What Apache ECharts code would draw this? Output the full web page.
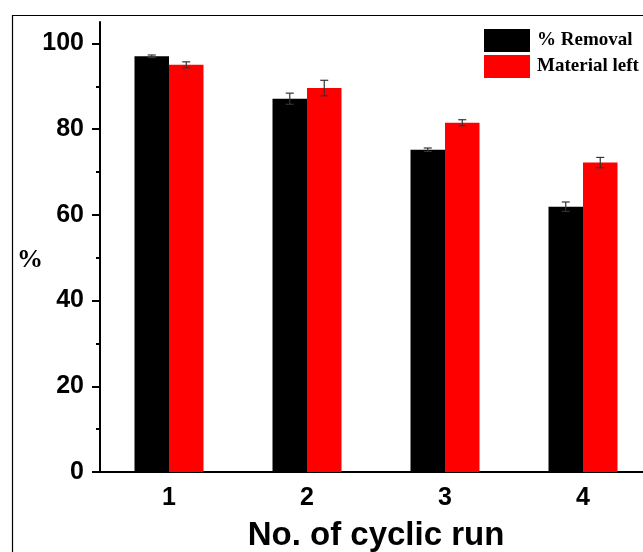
<!DOCTYPE html>
<html>
<head>
<meta charset="utf-8">
<script src="https://cdn.jsdelivr.net/npm/echarts@6/dist/echarts.min.js"></script>
<style>html,body{margin:0;padding:0;background:#fff;}#c{width:643px;height:552px;}</style>
</head>
<body>
<div id="c"></div>
<script>
const categories = ['1', '2', '3', '4'];
const removal = [97.0, 87.1, 75.2, 61.9];
const removalErr = [0.3, 1.3, 0.4, 1.1];
const materialLeft = [95.0, 89.6, 81.5, 72.2];
const materialErr = [0.7, 1.8, 0.7, 1.2];
const yMajorTicks = [0, 20, 40, 60, 80, 100];
const yMinorTicks = [10, 30, 50, 70, 90];

const chart = echarts.init(document.getElementById('c'), null, {renderer: 'canvas'});

function errRender(sign) {
  return function (params, api) {
    const i = api.value(0), v = api.value(1), e = api.value(2);
    const bw = api.size([1, 0])[0];
    const top = api.coord([i, v + e]);
    const bot = api.coord([i, v - e]);
    const x = top[0] + sign * bw * 0.125;
    const cap = 4;
    const st = {stroke: '#333', lineWidth: 1.2};
    return {
      type: 'group',
      children: [
        {type: 'line', shape: {x1: x, y1: top[1], x2: x, y2: bot[1]}, style: st},
        {type: 'line', shape: {x1: x - cap, y1: top[1], x2: x + cap, y2: top[1]}, style: st},
        {type: 'line', shape: {x1: x - cap, y1: bot[1], x2: x + cap, y2: bot[1]}, style: st}
      ]
    };
  };
}

const labelFont = {color: '#000', fontFamily: 'Liberation Sans, Arial, sans-serif', fontWeight: 'bold', fontSize: 25};

const option = {
  animation: false,
  backgroundColor: '#fff',
  grid: {left: 100, top: 22, width: 552, bottom: 80, containLabel: false, outerBoundsMode: 'none'},
  legend: {
    orient: 'vertical', left: 479, top: 24,
    itemWidth: 46, itemHeight: 23, itemGap: 3,
    icon: 'rect',
    textStyle: {color: '#000', fontFamily: 'Liberation Serif, Times New Roman, serif', fontWeight: 'bold', fontSize: 19, padding: [0, 0, 0, 2]},
    data: ['% Removal', 'Material left']
  },
  xAxis: [{
    type: 'category', data: categories, boundaryGap: true,
    name: 'No. of cyclic run', nameLocation: 'middle', nameGap: 47, nameMoveOverlap: false,
    nameTextStyle: {color: '#000', fontFamily: 'Liberation Sans, Arial, sans-serif', fontWeight: 'bold', fontSize: 33},
    axisLine: {lineStyle: {color: '#000', width: 2}},
    axisTick: {alignWithLabel: true, length: 8, inside: false, lineStyle: {color: '#000', width: 2}},
    axisLabel: Object.assign({margin: 14}, labelFont),
    splitLine: {show: false}
  }, {
    type: 'category', data: categories, boundaryGap: true, position: 'bottom',
    axisLine: {show: false},
    axisTick: {alignWithLabel: false, length: 4, lineStyle: {color: '#000', width: 2}},
    axisLabel: {show: false},
    splitLine: {show: false}
  }],
  yAxis: [{
    type: 'value', min: 0, max: 105,
    name: '%', nameLocation: 'middle', nameRotate: 0, nameGap: 57, nameMoveOverlap: false,
    nameTextStyle: {color: '#000', fontFamily: 'Liberation Serif, Times New Roman, serif', fontWeight: 'bold', fontSize: 26, verticalAlign: 'top'},
    axisLine: {show: true, lineStyle: {color: '#000', width: 2}},
    axisTick: {show: true, length: 8, customValues: yMajorTicks, lineStyle: {color: '#000', width: 2}},
    axisLabel: Object.assign({margin: 16, customValues: yMajorTicks}, labelFont),
    splitLine: {show: false}
  }, {
    type: 'value', min: 0, max: 105, position: 'left',
    axisLine: {show: false},
    axisTick: {show: true, length: 4, customValues: yMinorTicks, lineStyle: {color: '#000', width: 2}},
    axisLabel: {show: false},
    splitLine: {show: false}
  }],
  series: [
    {name: '% Removal', type: 'bar', data: removal, barGap: '0%', barCategoryGap: '50%', itemStyle: {color: '#000'}},
    {name: 'Material left', type: 'bar', data: materialLeft, barGap: '0%', barCategoryGap: '50%', itemStyle: {color: '#ff0000'}},
    {type: 'custom', renderItem: errRender(-1), z: 5, data: removal.map((v, i) => [i, v, removalErr[i]])},
    {type: 'custom', renderItem: errRender(1), z: 5, data: materialLeft.map((v, i) => [i, v, materialErr[i]])}
  ],
  graphic: [{
    type: 'rect', left: 10, top: 13, silent: true, z: -1,
    shape: {x: 0, y: 0, width: 700, height: 600},
    style: {fill: 'none', stroke: '#000', lineWidth: 1.2}
  }]
};
chart.setOption(option);
</script>
</body>
</html>
